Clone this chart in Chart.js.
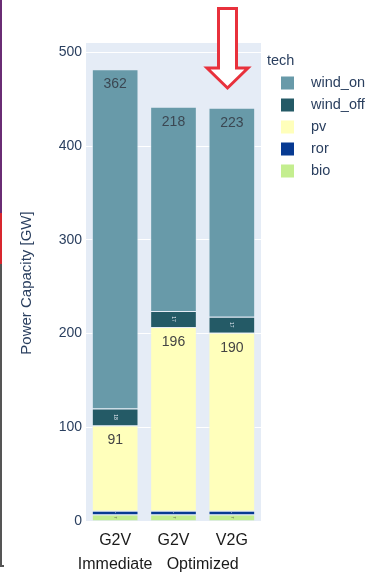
<!DOCTYPE html>
<html>
<head>
<meta charset="utf-8">
<script src="https://cdn.jsdelivr.net/npm/chart.js@4.4.1/dist/chart.umd.min.js"></script>
<style>
  html, body { margin: 0; padding: 0; background: #fff; overflow: hidden; }
  #wrap { width: 366px; height: 575px; position: relative; }
</style>
</head>
<body>
<div id="wrap"><canvas id="myChart"></canvas></div>
<script>
// Installed power capacity per charging strategy, GW
const categories = ['G2V', 'G2V', 'V2G'];
const groups = ['Immediate', 'Optimized', 'Optimized'];
const bio = [7, 7, 7];
const ror = [4, 4, 4];
const pv = [91, 196, 190];
const windOff = [18, 17, 17];
const windOn = [362, 218, 223];
const yTicks = [0, 100, 200, 300, 400, 500];

const FONT = '"Liberation Sans", Arial, sans-serif';
Chart.defaults.font.family = FONT;

// stacked bottom-up: bio, ror, pv, wind_off, wind_on
const datasets = [
    { label: 'bio', data: bio, backgroundColor: '#c4ee8f', textColor: '#444' },
    { label: 'ror', data: ror, backgroundColor: '#073a92', textColor: '#e8ecf5' },
    { label: 'pv', data: pv, backgroundColor: '#ffffbb', textColor: '#444' },
    { label: 'wind_off', data: windOff, backgroundColor: '#245a66', textColor: '#e8ecf5' },
    { label: 'wind_on', data: windOn, backgroundColor: '#689aa9', textColor: '#3b4752' }
].map(d => Object.assign(d, {
    borderColor: 'rgba(229,236,246,0.7)',
    borderWidth: 1,
    barPercentage: 0.8,
    categoryPercentage: 1.0
}));

// light plot background behind the bars
const plotBg = {
    id: 'plotBg',
    beforeDraw(chart) {
        const { ctx, chartArea: a } = chart;
        ctx.save();
        ctx.fillStyle = '#e5ecf6';
        ctx.fillRect(a.left, a.top - 2, a.right - a.left, a.bottom - a.top + 2);
        ctx.restore();
    }
};

// values written inside each segment
const barText = {
    id: 'barText',
    afterDatasetsDraw(chart) {
        const ctx = chart.ctx;
        chart.data.datasets.forEach((ds, i) => {
            const meta = chart.getDatasetMeta(i);
            meta.data.forEach((bar, j) => {
                const v = ds.data[j];
                const top = Math.min(bar.y, bar.base);
                const h = Math.abs(bar.base - bar.y);
                ctx.save();
                ctx.fillStyle = ds.textColor;
                ctx.textAlign = 'center';
                ctx.textBaseline = 'middle';
                if (h > 24) {
                    ctx.font = '14px ' + FONT;
                    ctx.fillText(String(v), bar.x, top + 15);
                } else {
                    // tiny segments get small rotated text
                    const size = Math.min(5, h * 0.6);
                    ctx.font = size + 'px ' + FONT;
                    ctx.translate(bar.x, top + h / 2);
                    ctx.rotate(Math.PI / 2);
                    ctx.fillText(String(v), 0, 0);
                }
                ctx.restore();
            });
        });
    }
};

// second row of x labels, merged across categories with the same group
const groupLabels = {
    id: 'groupLabels',
    afterDraw(chart) {
        const ctx = chart.ctx;
        const xs = chart.scales.x;
        let start = 0;
        ctx.save();
        ctx.font = '16px ' + FONT;
        ctx.fillStyle = '#1a1a1a';
        ctx.textAlign = 'center';
        ctx.textBaseline = 'middle';
        for (let i = 1; i <= groups.length; i++) {
            if (i === groups.length || groups[i] !== groups[start]) {
                const cx = (xs.getPixelForValue(start) + xs.getPixelForValue(i - 1)) / 2;
                ctx.fillText(groups[start], cx, 565);
                start = i;
            }
        }
        ctx.restore();
    }
};

// legend on the right, top series first
const sideLegend = {
    id: 'sideLegend',
    afterDraw(chart) {
        const ctx = chart.ctx;
        ctx.save();
        ctx.font = '14.5px ' + FONT;
        ctx.textBaseline = 'middle';
        ctx.fillStyle = '#2a3f5f';
        ctx.fillText('tech', 267, 61);
        const items = chart.data.datasets.slice().reverse();
        items.forEach((ds, k) => {
            const y = 83 + k * 22;
            ctx.fillStyle = ds.backgroundColor;
            ctx.fillRect(281, y - 6.5, 13, 13);
            ctx.fillStyle = '#2a3f5f';
            ctx.fillText(ds.label, 311, y);
        });
        ctx.restore();
    }
};

// red outlined arrow pointing at the V2G bar, plus the frame edge on the left
const marks = {
    id: 'marks',
    afterDraw(chart) {
        const ctx = chart.ctx;
        ctx.save();
        ctx.fillStyle = '#6a2c74';
        ctx.fillRect(0, 0, 2, 213);
        ctx.fillStyle = '#d8262e';
        ctx.fillRect(0, 213, 2, 51);
        ctx.fillStyle = '#555';
        ctx.fillRect(0, 264, 2, 303);
        ctx.fillRect(0, 565, 4, 2);

        ctx.beginPath();
        ctx.moveTo(218.5, 8.5);
        ctx.lineTo(236.5, 8.5);
        ctx.lineTo(236.5, 68);
        ctx.lineTo(248, 68);
        ctx.lineTo(227.5, 88);
        ctx.lineTo(207, 68);
        ctx.lineTo(218.5, 68);
        ctx.closePath();
        ctx.fillStyle = '#fff';
        ctx.fill();
        ctx.lineWidth = 3;
        ctx.lineJoin = 'miter';
        ctx.strokeStyle = '#e8313c';
        ctx.stroke();
        ctx.restore();
    }
};

var ctx = document.getElementById('myChart').getContext('2d');
var myChart = new Chart(ctx, {
    type: 'bar',
    data: { labels: categories, datasets: datasets },
    options: {
        responsive: true,
        maintainAspectRatio: false,
        animation: false,
        layout: { padding: { left: 0, right: 105, top: 45, bottom: 0 } },
        plugins: { legend: { display: false }, tooltip: { enabled: false } },
        scales: {
            x: {
                stacked: true,
                afterFit(s) { s.height = 54; },
                grid: { display: false, drawTicks: false },
                border: { display: false },
                ticks: { color: '#1a1a1a', font: { size: 16 }, padding: 10, maxRotation: 0, autoSkip: false }
            },
            y: {
                stacked: true,
                min: 0,
                max: 508,
                afterFit(s) { s.width = 86; },
                afterBuildTicks(s) { s.ticks = yTicks.map(v => ({ value: v })); },
                grid: { color: '#ffffff', lineWidth: 1, drawTicks: false },
                border: { display: false },
                ticks: { color: '#2a3f5f', font: { size: 14 }, padding: 4 },
                title: {
                    display: true,
                    text: 'Power Capacity [GW]',
                    color: '#2a3f5f',
                    font: { size: 15 },
                    padding: { top: 18, bottom: 0 }
                }
            }
        }
    },
    plugins: [plotBg, barText, groupLabels, sideLegend, marks]
});
</script>
</body>
</html>
